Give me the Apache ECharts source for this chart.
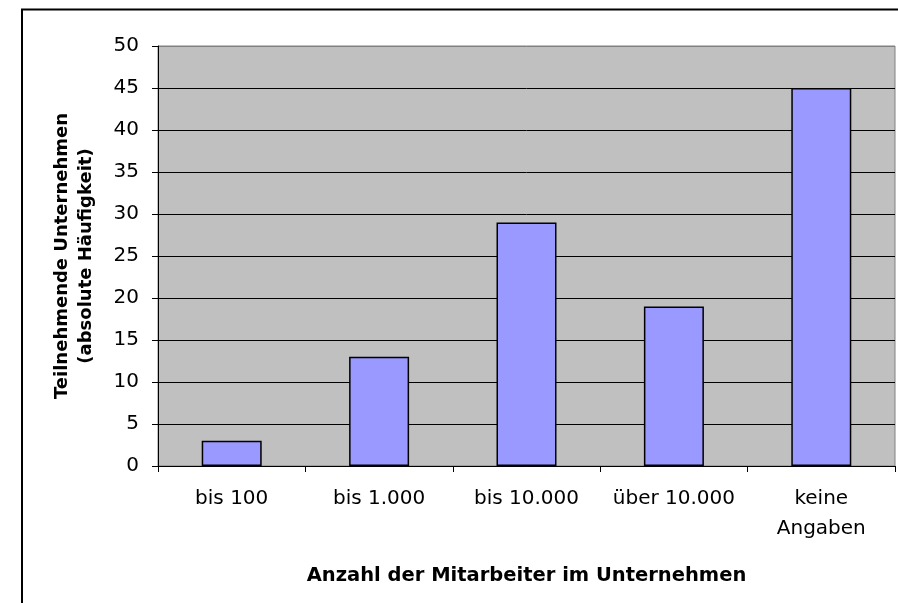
<!DOCTYPE html>
<html>
<head>
<meta charset="utf-8">
<script src="https://cdn.jsdelivr.net/npm/echarts@6/dist/echarts.min.js"></script>
<style>
  html, body { margin: 0; padding: 0; background: #fff; }
  #main { width: 898px; height: 603px; }
</style>
</head>
<body>
<div id="main"></div>
<script>
// Daten
var categories = ['bis 100', 'bis 1.000', 'bis 10.000', 'über 10.000', 'keine\nAngaben'];
var teilnehmer = [3, 13, 29, 19, 45];
var yMin = 0, yMax = 50, yStep = 5;

var xTitle = 'Anzahl der Mitarbeiter im Unternehmen';
var yTitle = 'Teilnehmende Unternehmen\n(absolute Häufigkeit)';

document.addEventListener('DOMContentLoaded', function () {
    var chart = echarts.init(document.getElementById('main'));

    // obere Gitterlinie (50) grau wie der Rand der Zeichenfläche
    var splitColors = [];
    for (var v = yMin; v <= yMax; v += yStep) {
        splitColors.push(v === yMax ? '#808080' : '#000000');
    }

    var option = {
        animation: false,
        backgroundColor: '#ffffff',
        textStyle: { fontFamily: 'DejaVu Sans' },
        graphic: [{
            type: 'rect',
            shape: { x: 22, y: 9.5, width: 900, height: 620 },
            style: { fill: 'none', stroke: '#000', lineWidth: 2 },
            silent: true
        }],
        grid: {
            left: 158,
            right: 3,
            top: 46,
            bottom: 137,
            show: true,
            backgroundColor: '#c0c0c0',
            borderColor: '#808080',
            borderWidth: 1
        },
        xAxis: {
            type: 'category',
            data: categories,
            boundaryGap: true,
            name: xTitle,
            nameLocation: 'middle',
            nameGap: 100,
            nameTextStyle: {
                fontFamily: 'DejaVu Sans',
                fontWeight: 'bold',
                fontSize: 19.5,
                color: '#000'
            },
            axisLine: { show: true, lineStyle: { color: '#000', width: 1 } },
            axisTick: { show: true, length: 6, lineStyle: { color: '#000' } },
            axisLabel: {
                color: '#000',
                fontSize: 20,
                lineHeight: 30,
                margin: 18,
                interval: 0
            },
            splitLine: { show: false }
        },
        yAxis: {
            type: 'value',
            min: yMin,
            max: yMax,
            interval: yStep,
            name: yTitle,
            nameLocation: 'middle',
            nameGap: 60,
            nameTextStyle: {
                fontFamily: 'DejaVu Sans',
                fontWeight: 'bold',
                fontSize: 18,
                lineHeight: 24,
                color: '#000'
            },
            axisLine: { show: true, lineStyle: { color: '#000', width: 1 } },
            axisTick: { show: true, length: 6, lineStyle: { color: '#000' } },
            axisLabel: { color: '#000', fontSize: 20, margin: 19 },
            splitLine: { show: true, lineStyle: { color: splitColors, width: 1 } }
        },
        series: [{
            type: 'bar',
            data: teilnehmer,
            barWidth: 60,
            itemStyle: {
                color: '#9999ff',
                borderColor: '#000',
                borderWidth: 1.5
            }
        }]
    };

    chart.setOption(option);
});
</script>
</body>
</html>
